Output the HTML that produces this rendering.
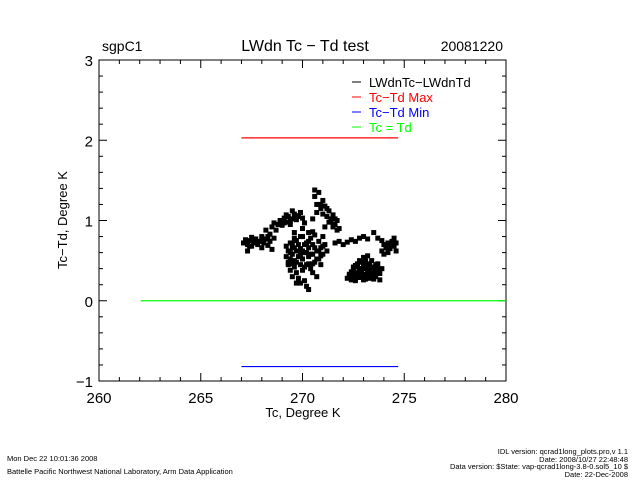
<!DOCTYPE html>
<html><head><meta charset="utf-8"><style>
body{margin:0;background:#fff;width:640px;height:480px;overflow:hidden}
svg text{font-family:"Liberation Sans",sans-serif}
</style></head><body>
<svg id="chart" width="640" height="480" xmlns="http://www.w3.org/2000/svg">
<rect width="640" height="480" fill="#fff"/>
<text x="102" y="51" font-size="14">sgpC1</text>
<text x="305" y="51" font-size="16" text-anchor="middle">LWdn Tc − Td test</text>
<text x="503" y="51" font-size="14" text-anchor="end">20081220</text>
<g id="axes"></g>
<g id="marks"></g>
<text x="303" y="417" font-size="13" text-anchor="middle">Tc, Degree K</text>
<text transform="translate(67,220) rotate(-90)" font-size="13" text-anchor="middle">Tc−Td, Degree K</text>
<g font-size="13">
<line x1="352" y1="82" x2="361" y2="82" stroke="#000"/><text x="369" y="87" fill="#000">LWdnTc−LWdnTd</text>
<line x1="352" y1="97" x2="361" y2="97" stroke="#f00"/><text x="369" y="102" fill="#f00">Tc−Td Max</text>
<line x1="352" y1="112" x2="361" y2="112" stroke="#00f"/><text x="369" y="117" fill="#00f">Tc−Td Min</text>
<line x1="352" y1="127" x2="361" y2="127" stroke="#0f0"/><text x="369" y="132" fill="#0f0">Tc = Td</text>
</g>
<g font-size="7.5">
<text x="7" y="461">Mon Dec 22 10:01:36 2008</text>
<text x="7" y="474">Battelle Pacific Northwest National Laboratory, Arm Data Application</text>
<text x="628" y="454" text-anchor="end">IDL version: qcrad1long_plots.pro,v 1.1</text>
<text x="628" y="462" text-anchor="end">Date: 2008/10/27 22:48:48</text>
<text x="628" y="469" text-anchor="end">Data version: $State: vap-qcrad1long-3.8-0.sol5_10 $</text>
<text x="628" y="477" text-anchor="end">Date: 22-Dec-2008</text>
</g>
</svg>
<script>
const xTicks=[260,265,270,275,280];
const yTicks=[-1,0,1,2,3];
const diffK=[267.1,267.2,267.3,267.4,267.5,267.5,267.6,267.7,267.8,267.9,268.0,268.0,268.1,268.2,268.3,268.4,268.4,268.5,268.6,267.3,268.2,
268.5,268.6,268.8,268.9,269.0,269.1,269.2,269.3,269.4,269.5,269.6,269.7,269.8,269.9,270.0,269.5,269.2,268.7,270.1,
270.6,270.7,270.8,270.9,271.0,271.0,271.1,271.2,271.3,271.3,271.4,271.5,271.5,271.6,271.7,271.7,271.8,270.7,270.5,271.1,270.6,
269.2,269.2,269.3,269.3,269.4,269.4,269.4,269.5,269.5,269.5,269.6,269.6,269.6,269.7,269.7,269.8,269.8,269.8,269.9,269.9,270.0,270.0,270.0,270.1,270.1,270.2,270.2,270.3,270.3,270.4,270.4,270.5,270.5,270.6,270.6,270.7,270.8,270.8,270.9,271.0,271.0,271.1,271.2,270.3,270.0,269.6,270.9,270.5,269.9,270.2,270.3,269.7,270.7,
271.6,271.8,272.0,272.2,272.4,272.6,272.8,273.0,273.2,273.5,273.7,273.9,274.0,274.2,274.3,274.4,274.5,274.6,274.6,274.2,274.0,273.9,
272.2,272.3,272.4,272.5,272.5,272.6,272.7,272.7,272.8,272.9,272.9,273.0,273.0,273.1,273.1,273.2,273.3,273.3,273.4,273.4,273.5,273.6,273.6,273.7,273.8,273.8,272.4,272.8,273.2,273.9,
272.3,272.4,272.5,272.6,272.6,272.7,272.8,272.9,273.0,273.1,273.2,273.3,273.4,273.5,273.5,273.6,273.7,273.1,272.9,273.0,272.7,273.3,273.6,272.5,
269.3,269.4,269.5,269.6,269.7,269.8,269.9,270.0,270.1,270.2,270.3,270.4,270.5,270.6,270.7,270.8,270.9,271.0,269.5,269.7,269.9,270.1,270.3,270.5,
267.4,267.7,268.0,268.3,268.9,269.1,269.4,269.7,270.9,271.2,271.4,271.6,274.3,274.5,274.1];
const diffV=[.72,.76,.70,.75,.79,.68,.73,.77,.70,.74,.80,.66,.72,.77,.69,.83,.74,.64,.78,.62,.88,
.92,.97,.95,1.0,.94,1.03,.98,1.05,.99,1.02,1.08,1.01,1.05,1.1,1.03,1.12,1.07,.88,.97,
1.3,1.2,1.35,1.15,1.25,1.08,1.18,1.05,1.12,.98,1.02,.92,1.07,.95,.88,1.0,.9,1.1,1.02,.92,1.38,
.55,.68,.45,.62,.38,.52,.72,.30,.58,.66,.42,.50,.78,.35,.62,.28,.55,.70,.45,.65,.38,.52,.80,.25,.60,.45,.72,.55,.66,.40,.78,.58,.70,.48,.82,.62,.52,.74,.66,.58,.80,.70,.62,.85,.90,.85,.45,.35,.22,.18,.14,.22,.30,
.72,.74,.70,.73,.76,.74,.78,.80,.77,.85,.78,.75,.70,.72,.65,.74,.68,.62,.72,.60,.58,.62,
.28,.33,.26,.38,.30,.25,.35,.42,.29,.48,.36,.26,.54,.40,.32,.46,.28,.38,.50,.34,.42,.30,.38,.46,.34,.26,.36,.50,.56,.40,
.30,.29,.34,.44,.28,.31,.40,.30,.44,.27,.35,.44,.30,.37,.27,.45,.40,.50,.40,.33,.46,.30,.34,.42,
.48,.60,.46,.66,.48,.62,.56,.62,.42,.60,.46,.58,.46,.66,.52,.62,.56,.68,.72,.75,.80,.70,.74,.86,
.68,.72,.76,.80,.98,.97,.95,1.06,1.2,1.15,.98,1.02,.70,.78,.66];
const maxLine=[267.0,274.7,2.03];
const minLine=[267.0,274.7,-0.82];
const eqLine=[262.05,280,0];

const X0=99,X1=506,Y0=381,Y1=60;
const xs=k=>X0+(k-260)/20*(X1-X0);
const ys=v=>Y0-(v+1)/4*(Y0-Y1);
const NS="http://www.w3.org/2000/svg";
function mk(t,a,p){const e=document.createElementNS(NS,t);for(const k in a)e.setAttribute(k,a[k]);p.appendChild(e);return e;}
const axes=document.getElementById('axes'),marks=document.getElementById('marks');
const box=mk('rect',{x:X0,y:Y1,width:X1-X0,height:Y0-Y1,fill:'none',stroke:'#000'},axes);


for(let k=260;k<=280;k++){const x=xs(k),L=(k%5===0)?8:4;
 mk('line',{x1:x,y1:Y0,x2:x,y2:Y0-L,stroke:'#000'},axes);mk('line',{x1:x,y1:Y1,x2:x,y2:Y1+L,stroke:'#000'},axes);}
for(let i=-5;i<=15;i++){const v=i/5,y=ys(v),L=(i%5===0)?8:4;
 mk('line',{x1:X0,y1:y,x2:X0+L,y2:y,stroke:'#000'},axes);mk('line',{x1:X1,y1:y,x2:X1-L,y2:y,stroke:'#000'},axes);}
xTicks.forEach(t=>{const e=mk('text',{x:xs(t),y:Y0+22,'font-size':15,'text-anchor':'middle'},axes);e.textContent=t;
 
 });
yTicks.forEach(t=>{const e=mk('text',{x:X0-6,y:ys(t)+6,'font-size':15,'text-anchor':'end'},axes);e.textContent=t===-1?'−1':t;
 
 });
function hl(a,c,n){const e=mk('line',{x1:xs(a[0]),x2:xs(a[1]),y1:ys(a[2]),y2:ys(a[2]),stroke:c,'stroke-width':1.2},marks);
 
 }
hl(eqLine,'#0f0','equal-line');hl(maxLine,'#f00','max-line');hl(minLine,'#00f','min-line');
diffK.forEach((k,i)=>{const e=mk('rect',{x:xs(k)-2.5,y:ys(diffV[i])-2.5,width:5,height:5,fill:'#000'},marks);
 
 });
</script>
</body></html>
